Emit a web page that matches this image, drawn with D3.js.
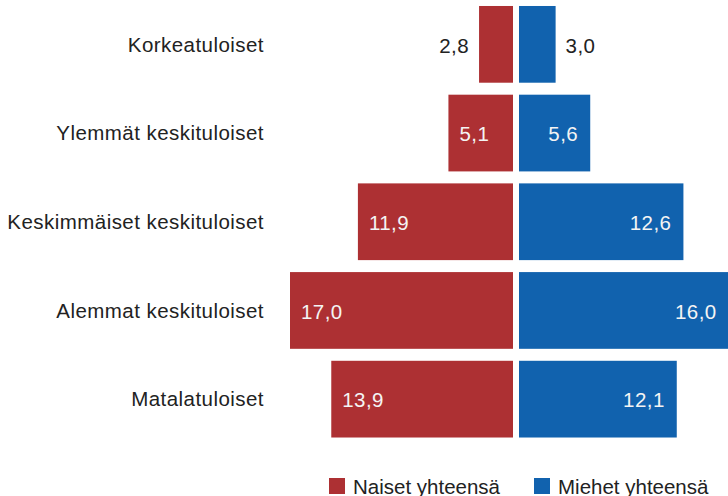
<!DOCTYPE html>
<html>
<head>
<meta charset="utf-8">
<script src="https://cdn.jsdelivr.net/npm/d3@7"></script>
<style>
  html, body { margin: 0; padding: 0; background: #fff; overflow: hidden; }
  svg { display: block; font-family: "Liberation Sans", Arial, sans-serif; }
</style>
</head>
<body>
<svg id="chart" width="728" height="496"></svg>
<script>
const categories = ["Korkeatuloiset", "Ylemmät keskituloiset", "Keskimmäiset keskituloiset", "Alemmat keskituloiset", "Matalatuloiset"];
const women = [2.8, 5.1, 11.9, 17.0, 13.9];
const men = [3.0, 5.6, 12.6, 16.0, 12.1];
const seriesNames = ["Naiset yhteensä", "Miehet yhteensä"];
const colors = ["#ad3033", "#1162ae"];

const svg = d3.select("#chart");
const centerL = 513, centerR = 519;
const fs = 20.5;
const ls = "0.45px";

const y = d3.scaleBand().domain(categories).range([0, 443.5]).paddingInner(0.135).paddingOuter(0.0675);
const x = d3.scaleLinear().domain([0.25, 17]).range([0, 223]);

const fmt = v => d3.format(".1f")(v).replace(".", ",");
const data = categories.map((c, i) => ({ c, w: women[i], m: men[i] }));
const insideMin = 4.5;

// category labels
svg.append("g").selectAll("text").data(data).join("text")
  .attr("x", 264).attr("y", d => y(d.c) + y.bandwidth() / 2)
  .attr("dy", "0.35em").attr("text-anchor", "end").attr("letter-spacing", ls)
  .attr("font-size", fs).attr("fill", "#222").text(d => d.c);

// women bars
svg.append("g").selectAll("rect").data(data).join("rect")
  .attr("x", d => centerL - x(d.w)).attr("width", d => x(d.w))
  .attr("y", d => y(d.c)).attr("height", y.bandwidth())
  .attr("fill", colors[0]);

// men bars
svg.append("g").selectAll("rect").data(data).join("rect")
  .attr("x", centerR).attr("width", d => x(d.m))
  .attr("y", d => y(d.c)).attr("height", y.bandwidth())
  .attr("fill", colors[1]);

// women values
svg.append("g").selectAll("text").data(data).join("text")
  .attr("x", d => d.w > insideMin ? centerL - x(d.w) + 11 : centerL - x(d.w) - 10)
  .attr("text-anchor", d => d.w > insideMin ? "start" : "end")
  .attr("y", d => y(d.c) + y.bandwidth() / 2 + 1).attr("dy", "0.35em").attr("letter-spacing", ls)
  .attr("font-size", fs).attr("fill", d => d.w > insideMin ? "#f4f4f4" : "#222")
  .text(d => fmt(d.w));

// men values
svg.append("g").selectAll("text").data(data).join("text")
  .attr("x", d => d.m > insideMin ? centerR + x(d.m) - 12 : centerR + x(d.m) + 10)
  .attr("text-anchor", d => d.m > insideMin ? "end" : "start")
  .attr("y", d => y(d.c) + y.bandwidth() / 2 + 1).attr("dy", "0.35em").attr("letter-spacing", ls)
  .attr("font-size", fs).attr("fill", d => d.m > insideMin ? "#f4f4f4" : "#222")
  .text(d => fmt(d.m));

// legend
const legendX = [329, 534];
const lg = svg.append("g").selectAll("g").data(seriesNames).join("g")
  .attr("transform", (d, i) => `translate(${legendX[i]},478)`);
lg.append("rect").attr("width", 16).attr("height", 16).attr("fill", (d, i) => colors[i]);
lg.append("text").attr("x", 24).attr("y", 15.5).attr("font-size", fs)
  .attr("fill", "#222").text(d => d);
</script>
</body>
</html>
